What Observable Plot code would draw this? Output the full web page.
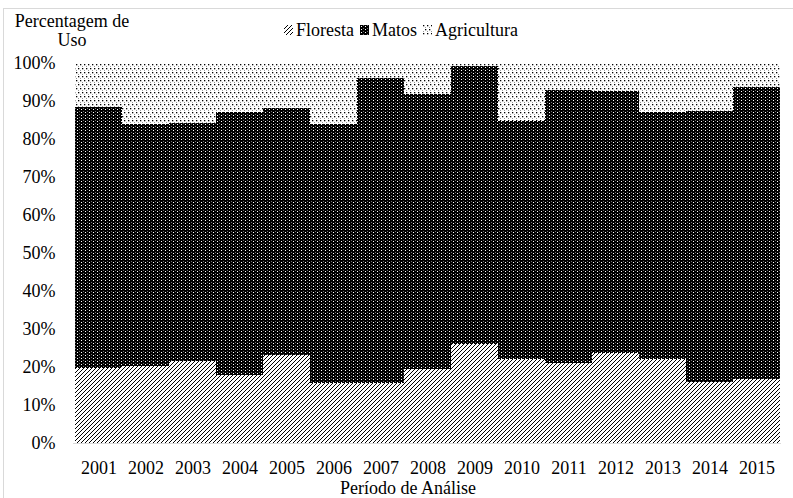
<!DOCTYPE html>
<html><head><meta charset="utf-8">
<script src="https://cdn.jsdelivr.net/npm/d3@7"></script>
<script src="https://cdn.jsdelivr.net/npm/@observablehq/plot@0.6"></script>
<style>
body{margin:0;background:#fff;}
#wrap{position:relative;width:793px;height:498px;overflow:hidden;font-family:"Liberation Serif","Times New Roman",serif;color:#000;}
#frame{position:absolute;left:3px;top:8px;width:800px;height:500px;border:1px solid #d9d9d9;box-sizing:border-box;}
#chart{position:absolute;left:0;top:0;}
#ylab{position:absolute;left:12px;top:12px;width:120px;font-size:18px;line-height:19px;text-align:center;}
#legend{position:absolute;top:20px;left:284px;font-size:18px;line-height:20px;display:flex;align-items:center;}
#legend .item{display:flex;align-items:center;margin-right:6px;}
#legend svg{margin-right:3px;}
#xlab{position:absolute;left:208px;width:400px;text-align:center;top:478px;font-size:18px;line-height:20px;}
</style>
</head><body>
<div id="wrap">
  <div id="frame"></div>
  <div id="chart"></div>
  <div id="ylab">Percentagem de<br>Uso</div>
  <div id="legend"></div>
  <div id="xlab">Período de Análise</div>
</div>
<script>
const years = ["2001","2002","2003","2004","2005","2006","2007","2008","2009","2010","2011","2012","2013","2014","2015"];
const uses = ["Floresta","Matos","Agricultura"];
const floresta = [19.7, 20.3, 21.6, 17.9, 23.2, 15.8, 15.8, 19.5, 26.1, 22.1, 21.1, 23.7, 22.1, 16.1, 16.8];
const matos = [68.6, 63.6, 62.7, 69.3, 64.9, 68.2, 80.2, 72.3, 73.1, 62.7, 71.8, 68.9, 65.0, 71.3, 76.8];
const agricultura = [11.7, 16.1, 15.7, 12.8, 11.9, 16.0, 4.0, 8.2, 0.8, 15.2, 7.1, 7.4, 12.9, 12.6, 6.4];
const yTicks = [0, 10, 20, 30, 40, 50, 60, 70, 80, 90, 100];

const patternIds = ["pFloresta", "pMatos", "pAgri"];
const series = [floresta, matos, agricultura];
const rows = [];
years.forEach((yr, i) => {
  uses.forEach((u, j) => rows.push({ano: yr, uso: u, valor: series[j][i]}));
});

const plot = Plot.plot({
  width: 793,
  height: 498,
  marginLeft: 73,
  marginRight: 12,
  marginTop: 63,
  marginBottom: 55,
  style: {fontFamily: "'Liberation Serif','Times New Roman',serif", fontSize: "18px", color: "#000", background: "transparent"},
  x: {domain: years, padding: 0, label: null},
  y: {domain: [0, 100], label: null},
  color: {domain: uses, range: patternIds.map(id => `url(#${id})`)},
  marks: [
    Plot.barY(rows, Plot.stackY({x: "ano", y: "valor", fill: "uso", shapeRendering: "crispEdges"})),
    Plot.ruleY([0], {stroke: "#d9d9d9"}),
    Plot.axisX({tickSize: 0, tickPadding: 18, label: null}),
    Plot.axisY({ticks: yTicks, tickFormat: d => d + "%", tickSize: 0, tickPadding: 18, label: null})
  ]
});

function addPatterns(svgSel) {
  const defs = svgSel.insert("defs", ":first-child");
  // Floresta: diagonal hatch
  const pf = defs.append("pattern").attr("id", "pFloresta").attr("patternUnits", "userSpaceOnUse").attr("width", 4).attr("height", 4);
  pf.append("rect").attr("width", 4).attr("height", 4).attr("fill", "#fff");
  pf.append("path").attr("d", "M-1,1 L1,-1 M0,4 L4,0 M3,5 L5,3").attr("stroke", "#000").attr("stroke-width", 1.0);
  // Matos: dark with white specks
  const pm = defs.append("pattern").attr("id", "pMatos").attr("patternUnits", "userSpaceOnUse").attr("width", 4).attr("height", 3);
  pm.append("rect").attr("width", 4).attr("height", 3).attr("fill", "#000");
  pm.append("rect").attr("x", 1).attr("y", 1).attr("width", 1).attr("height", 1).attr("fill", "#fff");
  pm.append("rect").attr("x", 3).attr("y", 0).attr("width", 0.6).attr("height", 1).attr("fill", "#bbb");
  // Agricultura: sparse dots
  const pa = defs.append("pattern").attr("id", "pAgri").attr("patternUnits", "userSpaceOnUse").attr("width", 8).attr("height", 8);
  pa.append("rect").attr("width", 8).attr("height", 8).attr("fill", "#fff");
  [[0,0],[4,0],[2,4],[6,4]].forEach(([x,y]) => pa.append("rect").attr("x", x).attr("y", y).attr("width", 1.3).attr("height", 1.3).attr("fill", "#000"));
  [[2,2],[6,2],[0,6],[4,6]].forEach(([x,y]) => pa.append("rect").attr("x", x).attr("y", y).attr("width", 1).attr("height", 1).attr("fill", "#999"));
}
addPatterns(d3.select(plot));
document.getElementById("chart").appendChild(plot);

// legend
const legend = d3.select("#legend");
uses.forEach((u, j) => {
  const it = legend.append("div").attr("class", "item");
  const s = it.append("svg").attr("width", 9).attr("height", 10);
  s.append("rect").attr("width", 9).attr("height", 10).attr("fill", `url(#${patternIds[j]})`);
  it.append("span").text(u);
});
</script>
</body></html>
